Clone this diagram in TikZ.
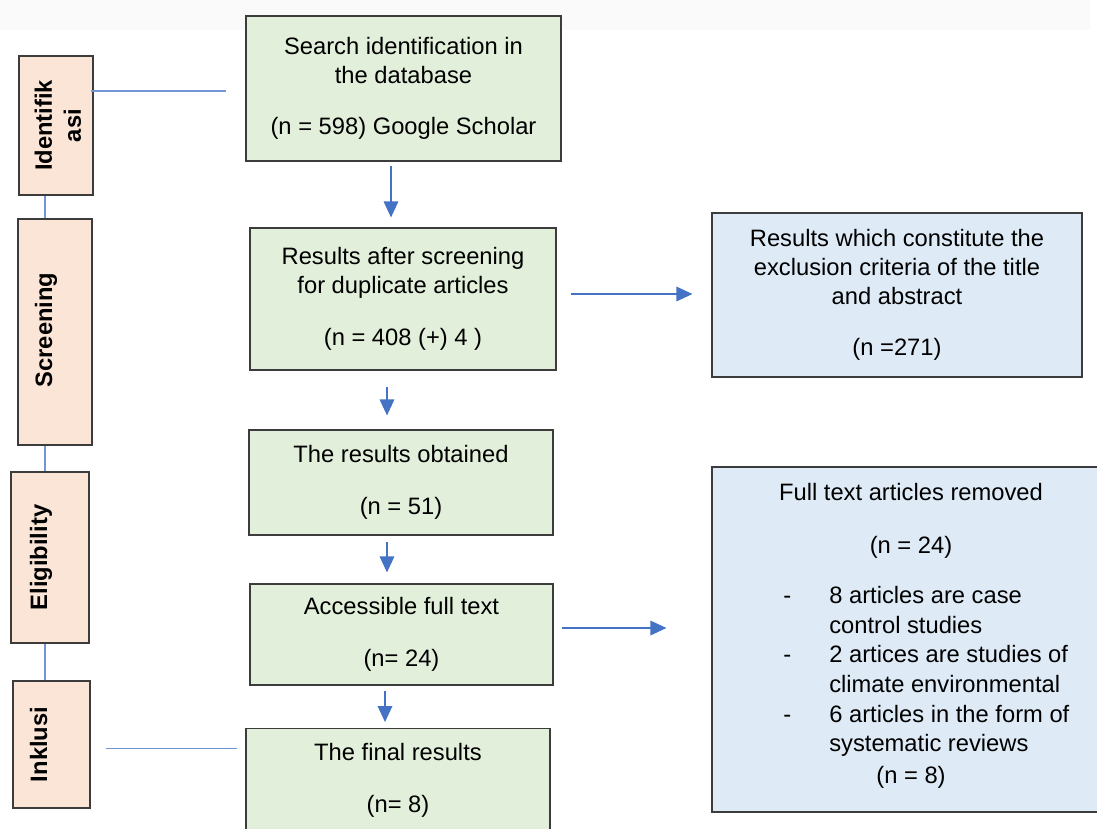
\documentclass[tikz,border=0pt]{standalone}
\usepackage{fontspec}
\setmainfont{Liberation Sans}
\usepackage{xcolor}
\usetikzlibrary{arrows.meta,positioning,shapes}
\definecolor{boxgreen}{HTML}{E2EFDA}
\definecolor{boxblue}{HTML}{DEEBF7}
\definecolor{boxpeach}{HTML}{FBE5D6}
\definecolor{arrowblue}{HTML}{4472C4}
\definecolor{linkblue}{HTML}{7397D6}
\definecolor{edgegray}{HTML}{3C3C3C}

\begin{document}
\begin{tikzpicture}[
		x = 0.75pt, y = -0.75pt,
		every node/.style = {font = \fontsize{17.8pt}{21.75pt}\selectfont, align = center, inner sep = 0pt},
		greenbox/.style = {rectangle, draw = edgegray, line width = 0.9pt, fill = boxgreen},
		bluebox/.style = {rectangle, draw = edgegray, line width = 0.9pt, fill = boxblue},
		phasebox/.style = {rectangle, draw = edgegray, line width = 0.9pt, fill = boxpeach},
		phasetext/.style = {rotate = 90, font = \fontsize{17.8pt}{21.75pt}\selectfont\bfseries},
		arr/.style = {draw = arrowblue, line width = 0.9pt, -{Triangle[length = 12pt, width = 11pt]}},
		link/.style = {draw = linkblue, line width = 0.9pt}
		]
\useasboundingbox (0,0) rectangle (1097,829);
\clip (0,0) rectangle (1097,829);
\fill[gray!4] (0,0) rectangle (1090,30);

% phases on the left
\node[phasebox, minimum width = 55.5pt, minimum height = 104.25pt] (ident) at (56,125.5) {};
\node[phasebox, minimum width = 55.5pt, minimum height = 169.5pt] (screen) at (55,332) {};
\node[phasebox, minimum width = 58.5pt, minimum height = 128.25pt] (elig) at (50,557.5) {};
\node[phasebox, minimum width = 57.75pt, minimum height = 95.25pt] (inkl) at (51.5,744.5) {};
		\node[phasetext] (identtext) at (58,125.5) {Identifik\\asi};
		\node[phasetext, anchor = base] (screentext) at (52,330) {Screening};
		\node[phasetext, anchor = base] (eligtext) at (47,557.5) {Eligibility};
		\node[phasetext, anchor = base] (inkltext) at (47,744.5) {Inklusi};

% main column
\node[greenbox, minimum width = 236.25pt, minimum height = 108.75pt] (search) at (403.5,88.5) {Search identification in\\the database\\[17pt](n = 598) Google Scholar};
\node[greenbox, minimum width = 229.5pt, minimum height = 106.5pt] (dup) at (403,299) {Results after screening\\for duplicate articles\\[17pt](n = 408 (+) 4 )};
\node[greenbox, minimum width = 228pt, minimum height = 78.75pt] (obtained) at (401,482.5) {The results obtained\\[17pt](n = 51)};
\node[greenbox, minimum width = 227.25pt, minimum height = 75.75pt] (access) at (401.5,634.5) {Accessible full text\\[17pt](n= 24)};
\node[greenbox, anchor = north, minimum width = 228pt, minimum height = 90pt] (final) at (398,728) {};
		\node[below = 11.25pt of final.north] (finaltext) {The final results\\[17pt](n= 8)};

% excluded
\node[bluebox, minimum width = 277.5pt, minimum height = 123pt] (excl) at (897,295) {Results which constitute the\\exclusion criteria of the title\\and abstract\\[17pt](n =271)};
\node[bluebox, minimum width = 298.5pt, minimum height = 258.75pt] (removed) at (911,639.5) {};
		\node[below = 12.75pt of removed.north] (removedtext) {Full text articles removed\\[18pt](n = 24)\\[17.25pt]\hspace*{23pt}\renewcommand{\arraystretch}{1.02}\begin{tabular}{@{}p{34.5pt}@{}l@{}}
			-&8 articles are case\\ &control studies\\
			-&2 artices are studies of\\ &climate environmental\\
			-&6 articles in the form of\\ &systematic reviews
		\end{tabular}\\[3.5pt](n = 8)};

\draw[link] (45,0 |- ident.south) -- (45,0 |- screen.north);
\draw[link] (45,0 |- screen.south) -- (45,0 |- elig.north);
\draw[link] (45,0 |- elig.south) -- (45,0 |- inkl.north);
\draw[link, shorten <= -2.25pt, shorten >= 14.25pt] (ident.east |- 0,91) -- (search.west |- 0,91);
\draw[link, shorten <= 11.25pt, shorten >= 6pt] (inkl.east |- 0,748.5) -- (final.west |- 0,748.5);

\draw[arr, shorten <= 3pt, shorten >= 7.5pt] (391,0 |- search.south) -- (391,0 |- dup.north);
\draw[arr, shorten <= 12pt, shorten >= 10.5pt] (387,0 |- dup.south) -- (387,0 |- obtained.north);
\draw[arr, shorten <= 4.5pt, shorten >= 8.25pt] (387,0 |- obtained.south) -- (387,0 |- access.north);
\draw[arr, shorten <= 3.75pt, shorten >= 4.5pt] (385,0 |- access.south) -- (385,0 |- final.north);
\draw[arr, shorten <= 10.5pt, shorten >= 14.25pt] (dup.east |- 0,294) -- (excl.west |- 0,294);
\draw[arr, shorten <= 6pt, shorten >= 33.75pt] (access.east |- 0,628) -- (removed.west |- 0,628);

\end{tikzpicture}
\end{document}
